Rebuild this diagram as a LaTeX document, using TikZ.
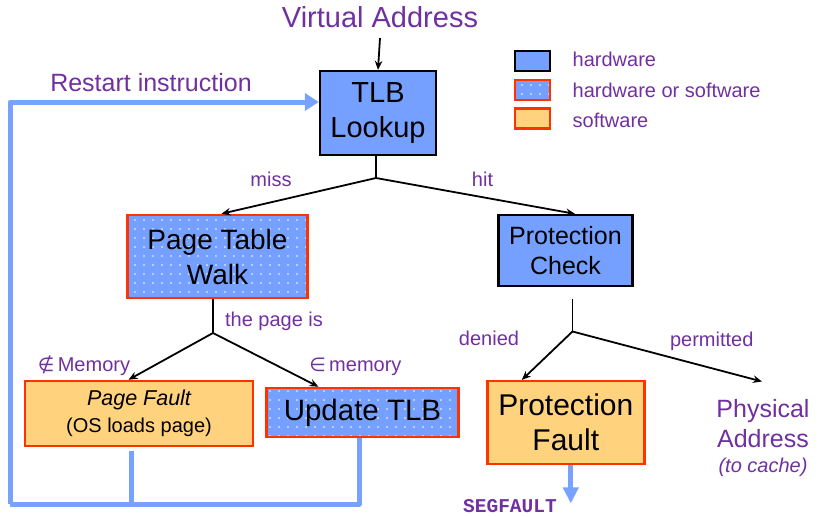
\documentclass[tikz,border=0pt]{standalone}
\usepackage{fontspec}
\setmainfont{Liberation Sans}
\setmonofont{Liberation Mono}
\newfontfamily\symf{DejaVu Sans}
\usetikzlibrary{arrows.meta,patterns.meta,calc}
\definecolor{hwblue}{RGB}{117,160,255}
\definecolor{swfill}{RGB}{255,211,125}
\definecolor{swred}{RGB}{255,51,0}
\definecolor{lbl}{RGB}{112,48,160}
\definecolor{fbblue}{RGB}{119,163,255}
\newcommand{\myfs}[2]{\fontsize{#1pt}{#2pt}\selectfont}
\tikzset{
  hwbox/.style={draw=black, line width=2.3pt, fill=hwblue, align=center, inner sep=0pt},
  mixbox/.style={draw=swred, line width=2.5pt, preaction={fill=hwblue},
    pattern={Dots[distance=9pt,radius=0.9pt]}, pattern color=white, align=center, inner sep=0pt},
  swbox/.style={draw=swred, line width=2.5pt, fill=swfill, align=center, inner sep=0pt},
  lab/.style={text=lbl, inner sep=0pt, anchor=base, font=\myfs{20}{24}},
  arr/.style={-{Stealth[length=9pt,width=7.5pt]}, line width=1.8pt, black},
  fb/.style={line width=5pt, fbblue, line join=round},
}
\begin{document}
\begin{tikzpicture}[x=1pt,y=-1pt]
\useasboundingbox (0,0) rectangle (820,517);
% legend
\node[hwbox, minimum width=35pt, minimum height=20pt] (lg1) at (532.5,61) {};
\node[mixbox, minimum width=35pt, minimum height=20pt] (lg2) at (532.5,90) {};
\node[swbox, minimum width=35pt, minimum height=20pt] (lg3) at (532.5,118.3) {};
\node[lab, anchor=base west] (lt1) at (572.5,66) {hardware};
\node[lab, anchor=base west] (lt2) at (572.5,97) {hardware or software};
\node[lab, anchor=base west] (lt3) at (572.5,127.5) {software};
% main boxes
\node[lab, font=\myfs{29}{35}] (va) at (380,27) {Virtual Address};
\node[hwbox, minimum width=116pt, minimum height=84pt, font=\myfs{29}{35}] (tlb) at (378,113) {TLB\\Lookup};
\node[mixbox, minimum width=180pt, minimum height=83pt, font=\myfs{28}{35}] (ptw) at (217.5,256.5) {Page Table\\Walk};
\node[hwbox, minimum width=134pt, minimum height=71pt, font=\myfs{25}{30}] (pc) at (565.5,250.5) {Protection\\Check};
\node[swbox, minimum width=228pt, minimum height=65pt, font=\myfs{20}{27}] (pgf) at (139,413.5) {{\myfs{21.5}{27}\itshape Page Fault}\\(OS loads page)};
\node[mixbox, minimum width=192pt, minimum height=49pt, font=\myfs{29.5}{35}] (upd) at (362.5,412.5) {Update TLB};
\node[swbox, minimum width=157pt, minimum height=83pt, font=\myfs{30}{35}] (prf) at (565.8,422.7) {Protection\\Fault};
\node[lab, font=\myfs{25}{31}] (phys1) at (763,417) {Physical};
\node[lab, font=\myfs{25}{31}] (phys2) at (763,447) {Address};
\node[lab, font=\myfs{20}{24}\itshape] (phys3) at (763,472) {(to cache)};
\node[lab, font=\myfs{19.5}{24}\ttfamily\bfseries] (seg) at (510,512.5) {SEGFAULT};
% labels
\node[lab, font=\myfs{25}{30}] (restart) at (151,91.5) {Restart instruction};
\node[lab] (miss) at (271,186) {miss};
\node[lab] (hit) at (482.5,186.5) {hit};
\node[lab] (pageis) at (274,326) {the page is};
\node[lab] (notin) at (84,371) {{\symf\myfs{19}{24}∉}\,Memory};
\node[lab] (isin) at (355.4,371) {{\symf\myfs{19}{24}∈}\,memory};
\node[lab] (denied) at (489,345) {denied};
\node[lab] (permit) at (711.7,346) {permitted};
% junctions
\coordinate (j1) at (376,178);
\coordinate (j2) at (213,333);
\coordinate (j3) at (572.5,331.5);
\coordinate (physin) at (762,381.5);
\coordinate (fbL) at (10,504);
% connectors
\draw[arr] ([yshift=-11pt]va.base) -- (tlb.north);
\draw[line width=1.8pt] (tlb.south -| j1) -- (j1);
\draw[arr] (j1) -- ([xshift=4pt]ptw.north);
\draw[arr] (j1) -- ([xshift=9.5pt]pc.north);
\draw[line width=1.8pt] (ptw.south -| j2) -- (j2);
\draw[arr] (j2) -- ([xshift=-10.5pt]pgf.north);
\draw[arr] (j2) -- ([xshift=-44pt]upd.north);
\draw[line width=1.8pt] ($(pc.south -| j3)+(0,12)$) -- (j3);
\draw[arr] (j3) -- ([xshift=-44pt]prf.north);
\draw[arr] (j3) -- (physin);
% feedback
\draw[fb] ([xshift=-8pt,yshift=-4pt]pgf.south) -- ([xshift=-8pt]pgf.south |- fbL);
\draw[fb] ([xshift=-3.5pt]upd.south) |- (fbL);
\draw[fb, -{Triangle[length=14pt,width=17pt]}] (fbL) |- ([yshift=11pt]tlb.west);
\draw[fb, -{Triangle[length=16pt,width=15pt]}] ([xshift=5pt]prf.south) -- ++(0,38);
\end{tikzpicture}
\end{document}
